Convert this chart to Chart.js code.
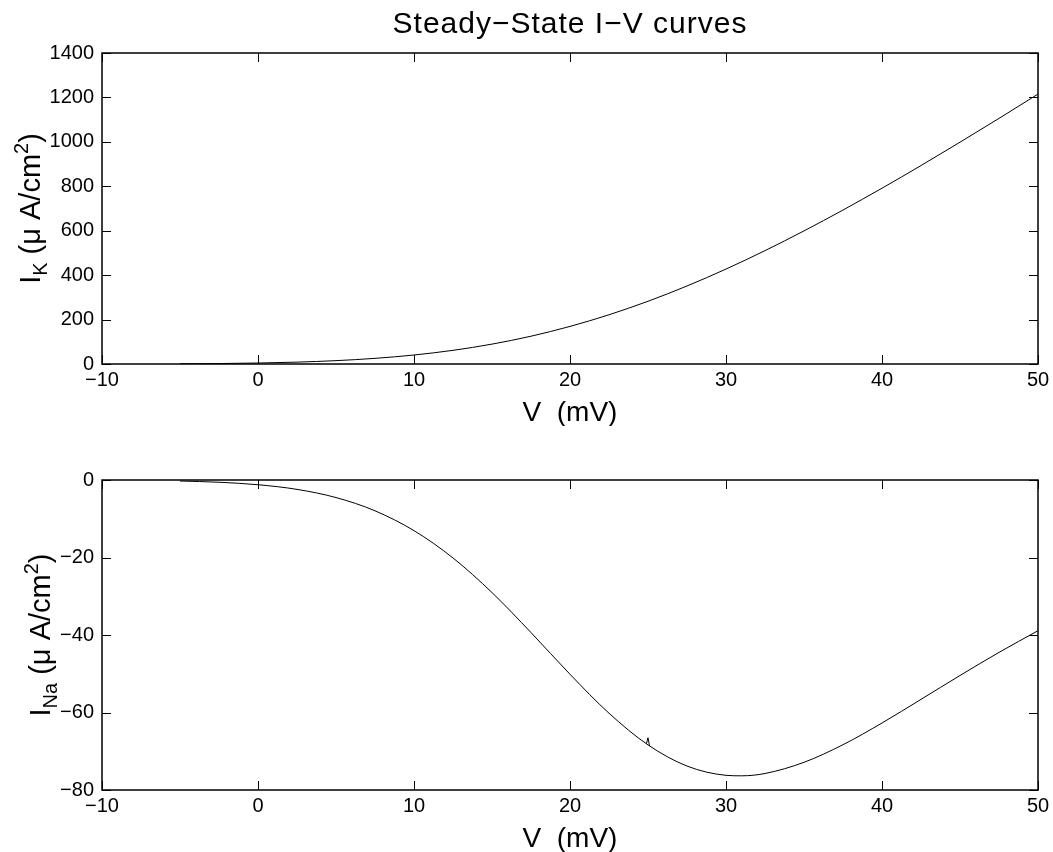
<!DOCTYPE html>
<html><head><meta charset="utf-8">
<script src="https://cdn.jsdelivr.net/npm/chart.js@4.4.0/dist/chart.umd.min.js"></script>
<style>
html,body{margin:0;padding:0;background:#fff;}
#wrap{position:relative;width:1053px;height:852px;overflow:hidden;}
canvas{position:absolute;left:0;}
</style></head><body>
<div id="wrap">
<canvas id="c1" width="1053" height="426" style="top:0"></canvas>
<canvas id="c2" width="1053" height="426" style="top:426px"></canvas>
</div>
<script>
const titleText = 'Steady\u2212State I\u2212V curves';
const xTitle = 'V  (mV)';
const xTicks = [-10, 0, 10, 20, 30, 40, 50];
const yKTicks = [0, 200, 400, 600, 800, 1000, 1200, 1400];
const yNaTicks = [-80, -60, -40, -20, 0];

const vK = [-5, -2.5, 0, 2.5, 5, 7.5, 10, 12.5, 15, 17.5, 20, 22.5, 25, 27.5, 30, 32.5, 35, 37.5, 40, 42.5, 45, 47.5, 50];
const iK = [0.9, 2.1, 4.4, 8.4, 15.1, 25.4, 40.5, 61.5, 89.5, 125.2, 169.2, 221.6, 282.4, 351.2, 427.4, 510.3, 599.2, 693.1, 791.4, 893.4, 998.4, 1105.7, 1215];

const vNa = [-5, -2.5, 0, 2.5, 5, 7.5, 10, 12.5, 15, 17.5, 20, 22.5, 25, 27.5, 30, 31, 32.5, 35, 37.5, 40, 42.5, 45, 47.5, 50];
const iNa = [-0.26, -0.58, -1.22, -2.42, -4.53, -7.95, -13.07, -20.12, -29.05, -39.37, -50.14, -60.19, -68.36, -73.82, -76.21, -76.34, -75.74, -72.85, -68.31, -62.71, -56.61, -50.45, -44.49, -38.9];

// small numerical glitch visible near V = 25 mV
const vGlitch = [24.9, 25.0, 25.1];
const iGlitch = [-68.05, -66.5, -68.65];

const FONT = '"Liberation Sans", Arial, Helvetica, sans-serif';
const minus = s => String(s).replace('-', '\u2212');

function drawYTitle(ctx, x, cy, sub) {
  const big = '29px ' + FONT, small = '20px ' + FONT;
  const parts = [
    {t: 'I', f: big, dy: 0},
    {t: sub, f: small, dy: 7},
    {t: ' (\u03bc A/cm', f: big, dy: 0},
    {t: '2', f: small, dy: -12},
    {t: ')', f: big, dy: 0}
  ];
  ctx.save();
  ctx.translate(x, cy);
  ctx.rotate(-Math.PI / 2);
  let w = 0;
  parts.forEach(p => { ctx.font = p.f; p.w = ctx.measureText(p.t).width; w += p.w; });
  let cx = -w / 2;
  ctx.textBaseline = 'alphabetic';
  ctx.textAlign = 'left';
  ctx.fillStyle = '#000';
  parts.forEach(p => { ctx.font = p.f; ctx.fillText(p.t, cx, p.dy); cx += p.w; });
  ctx.restore();
}

function framePlugin(sub, labelX, withTitle) {
  return {
    id: 'frame',
    afterDraw(chart) {
      const ctx = chart.ctx, a = chart.chartArea;
      const xs = chart.scales.x, ys = chart.scales.y;
      ctx.save();
      ctx.strokeStyle = '#000';
      ctx.lineWidth = 1;
      ctx.beginPath();
      const L = 9;
      xs.ticks.forEach(t => {
        const px = Math.round(xs.getPixelForValue(t.value)) + 0.5;
        ctx.moveTo(px, a.bottom); ctx.lineTo(px, a.bottom - L);
        ctx.moveTo(px, a.top); ctx.lineTo(px, a.top + L);
      });
      ys.ticks.forEach(t => {
        const py = Math.round(ys.getPixelForValue(t.value)) + 0.5;
        ctx.moveTo(a.left, py); ctx.lineTo(a.left + L, py);
        ctx.moveTo(a.right, py); ctx.lineTo(a.right - L, py);
      });
      ctx.stroke();
      ctx.lineWidth = 1.5;
      ctx.strokeRect(Math.round(a.left), Math.round(a.top), Math.round(a.right - a.left), Math.round(a.bottom - a.top));
      drawYTitle(ctx, labelX, (a.top + a.bottom) / 2, sub);
      ctx.fillStyle = '#000';
      ctx.textAlign = 'center';
      ctx.textBaseline = 'alphabetic';
      ctx.font = '28px ' + FONT;
      ctx.fillText(xTitle, (a.left + a.right) / 2, a.bottom + 57);
      if (withTitle) {
        ctx.font = '30px ' + FONT;
        try { ctx.letterSpacing = '1px'; } catch (e) {}
        ctx.fillText(titleText, (a.left + a.right) / 2, 33);
        try { ctx.letterSpacing = '0px'; } catch (e) {}
      }
      ctx.restore();
    }
  };
}

function makeChart(id, xs, ys, yTicks, sub, labelX, withTitle, padTop, extra) {
  const datasets = [{
    data: xs.map((v, i) => ({x: v, y: ys[i]})),
    borderColor: '#000',
    borderWidth: 1,
    pointRadius: 0,
    fill: false,
    cubicInterpolationMode: 'monotone'
  }];
  if (extra) {
    datasets.push({
      data: extra[0].map((v, i) => ({x: v, y: extra[1][i]})),
      borderColor: '#000',
      borderWidth: 1,
      pointRadius: 0,
      fill: false,
      tension: 0
    });
  }
  return new Chart(document.getElementById(id), {
    type: 'line',
    data: {datasets},
    options: {
      responsive: false,
      animation: false,
      devicePixelRatio: 1,
      layout: {padding: {top: padTop, right: 15, bottom: 0, left: 0}},
      plugins: {legend: {display: false}, tooltip: {enabled: false}, title: {display: false}},
      scales: {
        x: {
          type: 'linear',
          min: xTicks[0], max: xTicks[xTicks.length - 1],
          afterBuildTicks: s => { s.ticks = xTicks.map(v => ({value: v})); },
          afterFit: s => { s.height = 62; s.paddingLeft = 0; s.paddingRight = 0; },
          grid: {display: false},
          border: {display: false},
          ticks: {color: '#000', font: {family: FONT, size: 20}, padding: -4, callback: v => minus(v), maxRotation: 0, autoSkip: false},
          title: {display: false}
        },
        y: {
          type: 'linear',
          min: yTicks[0], max: yTicks[yTicks.length - 1],
          afterBuildTicks: s => { s.ticks = yTicks.map(v => ({value: v})); },
          afterFit: s => { s.width = 102; s.paddingTop = 0; s.paddingBottom = 0; },
          grid: {display: false},
          border: {display: false},
          ticks: {color: '#000', font: {family: FONT, size: 20}, padding: 0, callback: v => minus(v), autoSkip: false}
        }
      }
    },
    plugins: [framePlugin(sub, labelX, withTitle)]
  });
}

makeChart('c1', vK, iK, yKTicks, 'K', 40, true, 53, null);
makeChart('c2', vNa, iNa, yNaTicks, 'Na', 50, false, 54, [vGlitch, iGlitch]);
</script>
</body></html>
